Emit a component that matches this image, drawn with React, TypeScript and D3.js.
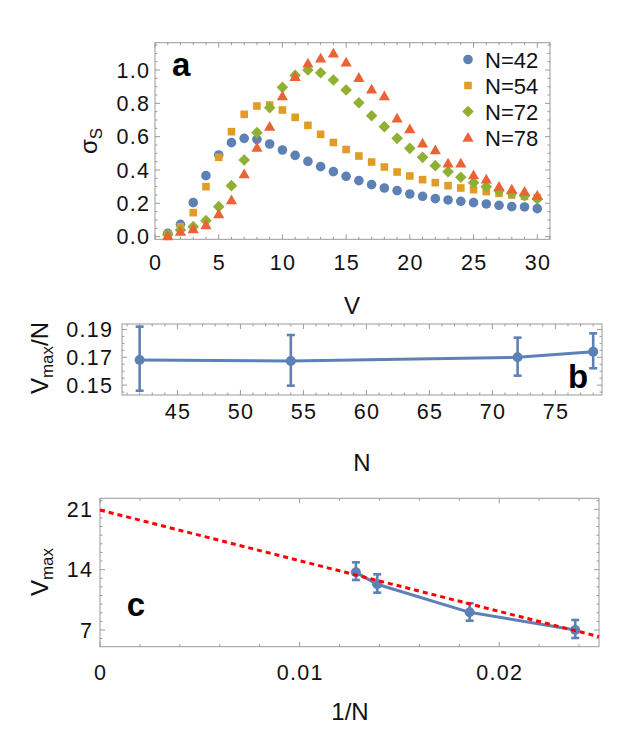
import React, { useRef, useEffect } from 'react';
import * as d3 from 'd3';

// panel a: sigma_S against V for four system sizes
const vValues = [1, 2, 3, 4, 5, 6, 7, 8, 9, 10, 11, 12, 13, 14, 15, 16, 17, 18, 19, 20, 21, 22, 23, 24, 25, 26, 27, 28, 29, 30];
const sigma42 = [0.02, 0.074, 0.204, 0.366, 0.49, 0.564, 0.59, 0.584, 0.556, 0.52, 0.488, 0.452, 0.42, 0.39, 0.362, 0.336, 0.312, 0.292, 0.276, 0.256, 0.242, 0.228, 0.22, 0.212, 0.204, 0.196, 0.188, 0.18, 0.178, 0.168];
const sigma54 = [0.014, 0.06, 0.144, 0.3, 0.476, 0.63, 0.734, 0.784, 0.79, 0.76, 0.716, 0.668, 0.614, 0.565, 0.523, 0.484, 0.448, 0.418, 0.388, 0.364, 0.342, 0.324, 0.306, 0.292, 0.282, 0.27, 0.26, 0.25, 0.242, 0.234];
const sigma72 = [0.012, 0.04, 0.06, 0.096, 0.18, 0.306, 0.46, 0.624, 0.774, 0.896, 0.968, 1.0, 0.984, 0.94, 0.88, 0.804, 0.726, 0.66, 0.59, 0.53, 0.476, 0.426, 0.39, 0.356, 0.324, 0.3, 0.276, 0.26, 0.246, 0.226];
const sigma78 = [0.004, 0.03, 0.046, 0.07, 0.136, 0.22, 0.376, 0.534, 0.66, 0.844, 0.96, 1.04, 1.07, 1.1, 1.046, 0.954, 0.884, 0.844, 0.71, 0.646, 0.56, 0.52, 0.44, 0.44, 0.37, 0.344, 0.3, 0.284, 0.27, 0.246];
const seriesNames = ['N=42', 'N=54', 'N=72', 'N=78'];
const seriesColors = ['#5e81b5', '#e19c24', '#8fb032', '#eb6235'];
const seriesShapes = ['circle', 'square', 'diamond', 'triangle'];

// panel b / c: position of the maximum
const nValues = [42, 54, 72, 78];
const vmaxOverN = [0.168, 0.1673, 0.170, 0.174];
const vmaxOverNLow = [0.146, 0.1496, 0.1568, 0.1621];
const vmaxOverNHigh = [0.192, 0.186, 0.1841, 0.1872];
const vmax = [7.0, 9.05, 12.3, 13.69];
const vmaxLow = [6.07, 8.08, 11.33, 12.8];
const vmaxHigh = [8.16, 10.1, 13.46, 14.85];
const fitIntercept = 20.92;
const fitSlope = -588;

const aXTicks = [0, 5, 10, 15, 20, 25, 30];
const aYTicks = [0, 0.2, 0.4, 0.6, 0.8, 1.0];
const bXTicks = [45, 50, 55, 60, 65, 70, 75];
const bYTicks = [0.15, 0.17, 0.19];
const cXTicks = [0, 0.01, 0.02];
const cYTicks = [7, 14, 21];

const FONT = "'Liberation Sans', Arial, Helvetica, sans-serif";
const FRAME = '#9a9a9a';
const BLUE = '#5e81b5';
const TICK_FS = 21.5;
const TICK_LS = 1.3;
const TITLE_FS = 24;
const SUB_FS = 17;

function drawFrame(svg: any, x: any, y: any, xMajor: number[], xMinor: number[], yMajor: number[], yMinor: number[],
  xFmt: (d: number) => string, yFmt: (d: number) => string, xLabelY: number, yLabelX: number) {
  const [x0, x1] = x.range();
  const [y0, y1] = y.range();
  const g = svg.append('g');
  g.append('rect').attr('x', x0).attr('y', y1).attr('width', x1 - x0).attr('height', y0 - y1)
    .attr('fill', 'none').attr('stroke', FRAME).attr('stroke-width', 1);
  const tick = (x1_: number, y1_: number, x2_: number, y2_: number) =>
    g.append('line').attr('x1', x1_).attr('y1', y1_).attr('x2', x2_).attr('y2', y2_).attr('stroke', FRAME).attr('stroke-width', 1);
  xMajor.forEach((d) => { const px = x(d); tick(px, y0, px, y0 - 5); tick(px, y1, px, y1 + 5); });
  xMinor.forEach((d) => { const px = x(d); tick(px, y0, px, y0 - 2.5); tick(px, y1, px, y1 + 2.5); });
  yMajor.forEach((d) => { const py = y(d); tick(x0, py, x0 + 5, py); tick(x1, py, x1 - 5, py); });
  yMinor.forEach((d) => { const py = y(d); tick(x0, py, x0 + 2.5, py); tick(x1, py, x1 - 2.5, py); });
  xMajor.forEach((d) => {
    g.append('text').attr('x', x(d) + TICK_LS / 2).attr('y', xLabelY).attr('text-anchor', 'middle').attr('font-family', FONT)
      .attr('font-size', TICK_FS).attr('letter-spacing', TICK_LS).attr('fill', '#111').text(xFmt(d));
  });
  yMajor.forEach((d) => {
    g.append('text').attr('x', yLabelX + TICK_LS).attr('y', y(d) + 7.8).attr('text-anchor', 'end').attr('font-family', FONT)
      .attr('font-size', TICK_FS).attr('letter-spacing', TICK_LS).attr('fill', '#111').text(yFmt(d));
  });
}

function marker(sel: any, shape: string, cx: number, cy: number, color: string) {
  if (shape === 'circle') {
    sel.append('circle').attr('cx', cx).attr('cy', cy).attr('r', 4.8).attr('fill', color);
  } else if (shape === 'square') {
    sel.append('rect').attr('x', cx - 3.8).attr('y', cy - 3.8).attr('width', 7.6).attr('height', 7.6).attr('fill', color);
  } else if (shape === 'diamond') {
    sel.append('path').attr('d', `M${cx},${cy - 5.8}L${cx + 5.8},${cy}L${cx},${cy + 5.8}L${cx - 5.8},${cy}Z`).attr('fill', color);
  } else {
    sel.append('path').attr('d', `M${cx},${cy - 5.6}L${cx + 5.6},${cy + 4.2}L${cx - 5.6},${cy + 4.2}Z`).attr('fill', color);
  }
}

function yTitle(svg: any, bx: number, cy: number, parts: [string, boolean][]) {
  const t = svg.append('text').attr('transform', `translate(${bx},${cy}) rotate(-90)`).attr('text-anchor', 'middle')
    .attr('font-family', FONT).attr('font-size', TITLE_FS).attr('fill', '#111');
  let sub = false;
  parts.forEach(([s, isSub]) => {
    const dy = isSub && !sub ? 5 : !isSub && sub ? -5 : 0;
    t.append('tspan').attr('dy', dy).attr('font-size', isSub ? SUB_FS : TITLE_FS).text(s);
    sub = isSub;
  });
}

function errorSeries(svg: any, x: any, y: any, xs: number[], ys: number[], lo: number[], hi: number[]) {
  const line = d3.line<number>().x((_, i) => x(xs[i])).y((d) => y(d));
  svg.append('path').attr('d', line(ys)).attr('fill', 'none').attr('stroke', BLUE).attr('stroke-width', 3);
  ys.forEach((d, i) => {
    const px = x(xs[i]);
    svg.append('line').attr('x1', px).attr('x2', px).attr('y1', y(lo[i])).attr('y2', y(hi[i])).attr('stroke', BLUE).attr('stroke-width', 2.6);
    [lo[i], hi[i]].forEach((e) => {
      svg.append('line').attr('x1', px - 4).attr('x2', px + 4).attr('y1', y(e)).attr('y2', y(e)).attr('stroke', BLUE).attr('stroke-width', 2.6);
    });
    svg.append('circle').attr('cx', px).attr('cy', y(d)).attr('r', 5).attr('fill', BLUE);
  });
}

export default function App() {
  const svgRef = useRef<SVGSVGElement | null>(null);

  useEffect(() => {
    if (!svgRef.current) return;
    const svg = d3.select(svgRef.current);
    svg.selectAll('*').remove();
    svg.append('rect').attr('width', 623).attr('height', 739).attr('fill', '#fff');

    // ---- panel a
    const xa = d3.scaleLinear().domain([0, 31]).range([155, 550]);
    const ya = d3.scaleLinear().domain([-0.016, 1.164]).range([239.3, 42.7]);
    drawFrame(svg, xa, ya, aXTicks, d3.range(0, 32, 1).filter((d) => d % 5 !== 0), aYTicks,
      d3.range(0, 1.16, 0.05).filter((d) => Math.abs(d / 0.2 - Math.round(d / 0.2)) > 0.01),
      d3.format('d'), d3.format('.1f'), 270, 149);
    const allSeries = [sigma42, sigma54, sigma72, sigma78];
    allSeries.forEach((s, k) => {
      const g = svg.append('g');
      s.forEach((d, i) => marker(g, seriesShapes[k], xa(vValues[i]), ya(d), seriesColors[k]));
    });
    seriesNames.forEach((name, k) => {
      const ly = 59.5 + k * 26;
      marker(svg, seriesShapes[k], 468, ly, seriesColors[k]);
      svg.append('text').attr('x', 485).attr('y', ly + 8).attr('font-family', FONT).attr('font-size', 22).attr('fill', '#111').text(name);
    });
    svg.append('text').attr('x', 172).attr('y', 76).attr('font-family', FONT).attr('font-size', 33).attr('font-weight', 'bold').text('a');
    svg.append('text').attr('x', 352).attr('y', 314).attr('text-anchor', 'middle').attr('font-family', FONT).attr('font-size', TITLE_FS).attr('fill', '#111').text('V');
    yTitle(svg, 97, 141, [['σ', false], ['S', true]]);

    // ---- panel b
    const xb = d3.scaleLinear().domain([40.6, 78.7]).range([122, 602]);
    const yb = d3.scaleLinear().domain([0.1429, 0.1939]).range([395, 324]);
    drawFrame(svg, xb, yb, bXTicks, d3.range(41, 79, 1).filter((d) => d % 5 !== 0), bYTicks,
      [0.145, 0.155, 0.16, 0.165, 0.175, 0.18, 0.185],
      d3.format('d'), d3.format('.2f'), 419, 112);
    errorSeries(svg, xb, yb, nValues, vmaxOverN, vmaxOverNLow, vmaxOverNHigh);
    svg.append('text').attr('x', 578).attr('y', 388).attr('text-anchor', 'middle').attr('font-family', FONT).attr('font-size', 33).attr('font-weight', 'bold').text('b');
    svg.append('text').attr('x', 362).attr('y', 471).attr('text-anchor', 'middle').attr('font-family', FONT).attr('font-size', TITLE_FS).attr('fill', '#111').text('N');
    yTitle(svg, 48, 358, [['V', false], ['max', true], ['/N', false]]);

    // ---- panel c
    const xc = d3.scaleLinear().domain([0, 0.025]).range([100, 599]);
    const yc = d3.scaleLinear().domain([5.06, 22.28]).range([646.7, 498.3]);
    drawFrame(svg, xc, yc, cXTicks, [0.002, 0.004, 0.006, 0.008, 0.012, 0.014, 0.016, 0.018, 0.022, 0.024], cYTicks,
      d3.range(6, 23, 1).filter((d) => d % 7 !== 0),
      (d) => (d === 0 ? '0' : d3.format('.2f')(d)), d3.format('d'), 680, 92);
    const invN = nValues.map((n) => 1 / n);
    errorSeries(svg, xc, yc, invN, vmax, vmaxLow, vmaxHigh);
    const fitX = xc.domain();
    svg.append('line').attr('x1', xc(fitX[0])).attr('y1', yc(fitIntercept + fitSlope * fitX[0]))
      .attr('x2', xc(fitX[1])).attr('y2', yc(fitIntercept + fitSlope * fitX[1]))
      .attr('stroke', '#ff0000').attr('stroke-width', 3).attr('stroke-dasharray', '5,4');
    svg.append('text').attr('x', 136).attr('y', 616).attr('text-anchor', 'middle').attr('font-family', FONT).attr('font-size', 33).attr('font-weight', 'bold').text('c');
    svg.append('text').attr('x', 350).attr('y', 720).attr('text-anchor', 'middle').attr('font-family', FONT).attr('font-size', TITLE_FS).attr('fill', '#111').text('1/N');
    yTitle(svg, 48, 572, [['V', false], ['max', true]]);
  }, []);

  return (
    <svg ref={svgRef} width={623} height={739} style={{ position: 'absolute', left: 0, top: 0 }} />
  );
}
